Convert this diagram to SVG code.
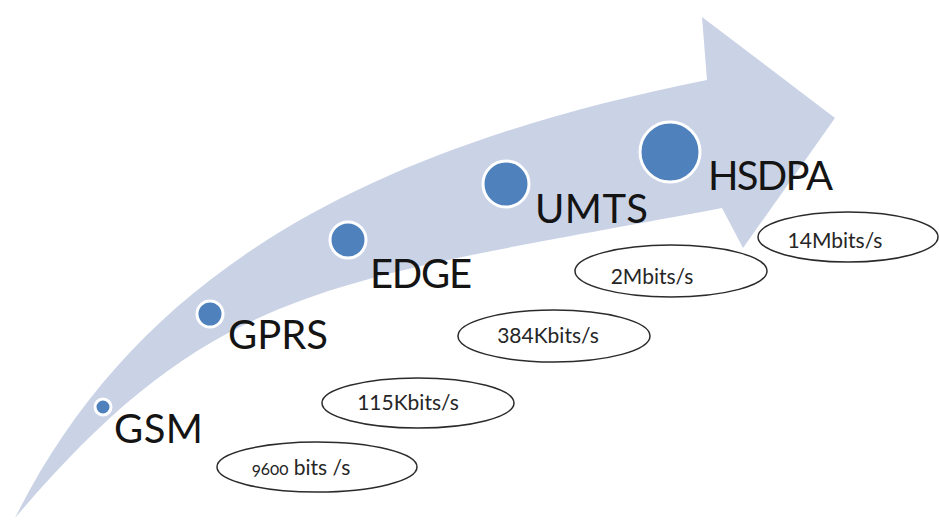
<svg xmlns="http://www.w3.org/2000/svg" width="939" height="520" viewBox="0 0 939 520">
  <style>
    .band { fill: #cad2e6; }
    .dot { fill: #4f81bd; stroke: #ffffff; stroke-width: 3; }
    .tech { font-family: Lato, "Open Sans", sans-serif; font-size: 40px; fill: #141414; }
    .rate { fill: #ffffff; stroke: #2b2b2b; stroke-width: 1.5; }
    .rate-text { font-family: Lato, "Open Sans", sans-serif; font-size: 21px; fill: #262626; text-anchor: middle; }
  </style>

  <!-- sweeping upward arrow behind the milestones -->
  <g id="arrow">
    <path class="band" d="M 15,518 C 135,278 357,150 707,80 L 702,17 L 835,118 L 743,248 L 722,208 C 330,282 215,282 15,518 Z"/>
  </g>

  <!-- technology milestones: dot + name -->
  <g id="gsm">
    <circle class="dot" cx="103" cy="407" r="8"/>
    <text class="tech" x="114" y="443" textLength="89">GSM</text>
  </g>
  <g id="gprs">
    <circle class="dot" cx="210" cy="314" r="13"/>
    <text class="tech" x="228" y="349" textLength="100">GPRS</text>
  </g>
  <g id="edge">
    <circle class="dot" cx="348" cy="240" r="18"/>
    <text class="tech" x="370" y="288" textLength="102">EDGE</text>
  </g>
  <g id="umts">
    <circle class="dot" cx="506" cy="184" r="23"/>
    <text class="tech" x="535" y="223" textLength="113">UMTS</text>
  </g>
  <g id="hsdpa">
    <circle class="dot" cx="670" cy="152" r="30"/>
    <text class="tech" x="708" y="190" textLength="125">HSDPA</text>
  </g>

  <!-- data rates -->
  <g id="rate-gsm">
    <ellipse class="rate" cx="317" cy="467" rx="100" ry="25"/>
    <text class="rate-text" x="301" y="475"><tspan style="font-variant-numeric: oldstyle-nums" font-size="17">9600</tspan> bits /s</text>
  </g>
  <g id="rate-gprs">
    <ellipse class="rate" cx="418" cy="403" rx="96" ry="25"/>
    <text class="rate-text" x="408" y="410">115Kbits/s</text>
  </g>
  <g id="rate-edge">
    <ellipse class="rate" cx="554" cy="336" rx="96" ry="26"/>
    <text class="rate-text" x="548" y="343">384Kbits/s</text>
  </g>
  <g id="rate-umts">
    <ellipse class="rate" cx="671" cy="271" rx="96" ry="26"/>
    <text class="rate-text" x="652" y="284">2Mbits/s</text>
  </g>
  <g id="rate-hsdpa">
    <ellipse class="rate" cx="848" cy="237" rx="90" ry="25"/>
    <text class="rate-text" x="835" y="248">14Mbits/s</text>
  </g>
</svg>
